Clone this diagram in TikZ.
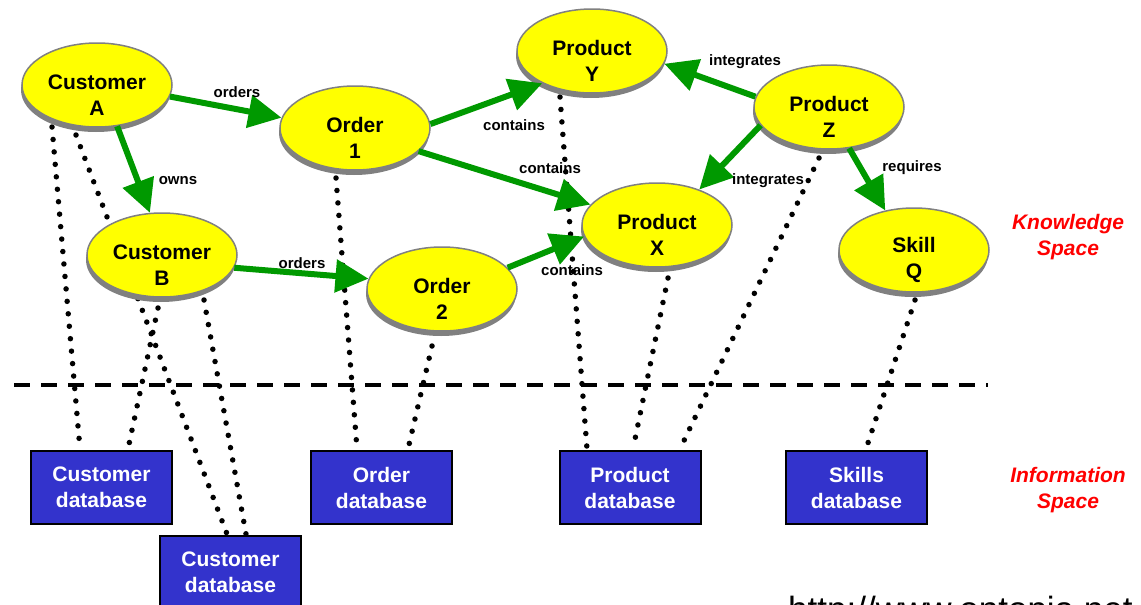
\documentclass[tikz,border=0pt]{standalone}
\usepackage{fontspec}
\setmainfont{Liberation Sans}
\usetikzlibrary{shapes.geometric,arrows.meta,shadows,calc}
\definecolor{kyellow}{RGB}{255,255,0}
\definecolor{kgreen}{RGB}{0,153,0}
\definecolor{kblue}{RGB}{51,51,204}
\definecolor{kgray}{RGB}{128,128,128}
\definecolor{kred}{RGB}{255,0,0}
\pgfdeclarelayer{background}
\pgfsetlayers{background,main}
\tikzset{
 topic/.style={ellipse, fill=kyellow, draw=kgray, line width=1.5pt, minimum width=150pt, minimum height=84pt, inner sep=0pt,
   general shadow={fill=kgray, shadow xshift=-1pt, shadow yshift=-5pt}},
 topictext/.style={font=\bfseries\fontsize{21}{26}\selectfont, align=center, inner sep=0pt},
 dbbox/.style={rectangle, fill=kblue, draw=black, line width=2pt, minimum width=141pt, minimum height=73pt, text=white,
   font=\bfseries\fontsize{21}{26}\selectfont, align=center, inner sep=0pt},
 assoc/.style={draw=kgreen, line width=6pt, -{Triangle[length=33pt,width=32pt]}},
 assoclabel/.style={font=\bfseries\fontsize{15}{18}\selectfont, inner sep=0pt},
 occ/.style={line width=5.5pt, dash pattern=on 0pt off 12.5pt, line cap=round},
 sepline/.style={line width=4pt, dash pattern=on 16pt off 11pt},
 spacelabel/.style={text=kred, font=\bfseries\itshape\fontsize{21}{26}\selectfont, align=center, inner sep=0pt},
}
\begin{document}
\begin{tikzpicture}[x=1pt,y=-1pt]
\useasboundingbox (0,0) rectangle (1141,605);
\clip (0,0) rectangle (1141,605);

% topics
\node[topic] (A) at (97,85) {};
\node[topic] (B) at (162,255) {};
\node[topic] (O1) at (355,128) {};
\node[topic] (O2) at (442,289) {};
\node[topic] (Y) at (592,51) {};
\node[topic] (Z) at (829,107) {};
\node[topic] (X) at (657,225) {};
\node[topic] (Q) at (914,250) {};

\node[topictext] (At) at ($(A)+(0,10)$) {Customer\\A};
\node[topictext] (Bt) at ($(B)+(0,10)$) {Customer\\B};
\node[topictext] (O1t) at ($(O1)+(0,10)$) {Order\\1};
\node[topictext] (O2t) at ($(O2)+(0,10)$) {Order\\2};
\node[topictext] (Yt) at ($(Y)+(0,10)$) {Product\\Y};
\node[topictext] (Zt) at ($(Z)+(0,10)$) {Product\\Z};
\node[topictext] (Xt) at ($(X)+(0,10)$) {Product\\X};
\node[topictext] (Qt) at ($(Q)+(0,10)$) {Skill\\Q};

% databases
\node[dbbox] (CD1) at (101.5,487.5) {Customer\\database};
\node[dbbox] (CD2) at (230.5,572.5) {Customer\\database};
\node[dbbox] (ODB) at (381.5,487.5) {Order\\database};
\node[dbbox] (PDB) at (630,487.5) {Product\\database};
\node[dbbox] (SDB) at (856.5,487.5) {Skills\\database};

% occurrences (dotted)
\begin{pgfonlayer}{background}
\draw[occ] ($(A)+(-45,42)$) -- ($(CD1.north)+(-21.5,-1)$);
\draw[occ] ($(A)+(-21,50)$) -- ($(CD2.north)+(-3.5,-1)$);
\draw[occ] ($(B)+(-4,53)$) -- ($(CD1.north)+(26.5,-1)$);
\draw[occ] ($(B)+(42,45)$) -- ($(CD2.north)+(15.5,-1)$);
\draw[occ] ($(O1)+(-19,50)$) -- ($(ODB.north)+(-24.5,-1)$);
\draw[occ] ($(O2)+(-10,57)$) -- ($(ODB.north)+(26.5,-1)$);
\draw[occ] ($(Y)+(-32,46)$) -- ($(PDB.north)+(-43,-1)$);
\draw[occ] ($(X)+(11,53)$) -- ($(PDB.north)+(3,-1)$);
\draw[occ] ($(Z)+(-10,51)$) -- ($(PDB.north)+(50,-1)$);
\draw[occ] ($(Q)+(1,50)$) -- ($(SDB.north)+(9.5,-1)$);
\end{pgfonlayer}

% associations
\draw[assoc] (A.-9) -- (O1.172);
\draw[assoc] (A.-64) -- (B.106);
\draw[assoc] (B.-10) -- (O2.172);
\draw[assoc] (O1.3) -- (Y.213);
\draw[assoc] (O1.-20) -- (X.163);
\draw[assoc] (O2.18) -- (X.189);
\draw[assoc] (Z.172) -- (Y.-10);
\draw[assoc] (Z.195) -- (X.40);
\draw[assoc] (Z.-64) -- (Q.126);

\node[assoclabel] (l1) at (237,92) {orders};
\node[assoclabel] (l2) at (178,181) {owns};
\node[assoclabel] (l3) at (302,263) {orders};
\node[assoclabel] (l4) at (514,125) {contains};
\node[assoclabel] (l5) at (550,168) {contains};
\node[assoclabel] (l6) at (572,270) {contains};
\node[assoclabel] (l7) at (745,62) {integrates};
\node[assoclabel] (l8) at (768,181) {integrates};
\node[assoclabel] (l9) at (912,168) {requires};

% separator
\coordinate (s1) at (14,385);
\coordinate (s2) at (988,385);
\draw[sepline] (s1) -- (s2);

\node[spacelabel] (ks) at (1068,237) {Knowledge\\Space};
\node[spacelabel] (is) at (1068,490) {Information\\Space};

\node[anchor=base west, font=\fontsize{35}{40}\selectfont, inner sep=0pt] (url) at (788,621) {http://www.ontopia.net};
\end{tikzpicture}
\end{document}
